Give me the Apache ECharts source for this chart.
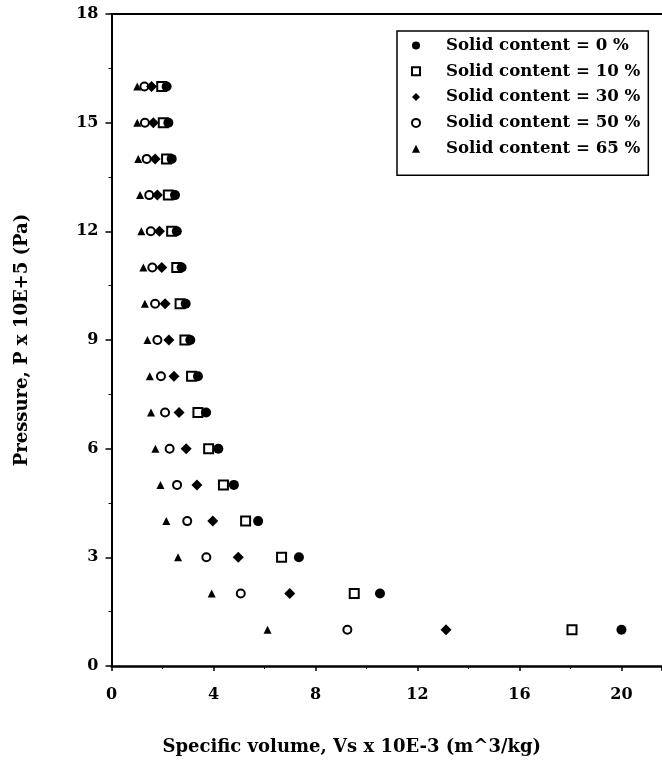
<!DOCTYPE html>
<html>
<head>
<meta charset="utf-8">
<script src="https://cdn.jsdelivr.net/npm/echarts@6/dist/echarts.min.js"></script>
<style>
html,body{margin:0;padding:0;background:#fff;}
#chart{width:662px;height:769px;}
</style>
</head>
<body>
<div id="chart"></div>
<script>
var pressure = [1,2,3,4,5,6,7,8,9,10,11,12,13,14,15,16];
var seriesNames = ['Solid content = 0 %','Solid content = 10 %','Solid content = 30 %','Solid content = 50 %','Solid content = 65 %'];
var vs0  = [20.0, 10.53, 7.35, 5.75, 4.80, 4.19, 3.71, 3.39, 3.09, 2.91, 2.75, 2.56, 2.49, 2.36, 2.23, 2.16];
var vs10 = [18.06, 9.52, 6.67, 5.26, 4.39, 3.81, 3.39, 3.14, 2.88, 2.69, 2.56, 2.36, 2.23, 2.16, 2.03, 1.97];
var vs30 = [13.12, 6.99, 4.97, 3.97, 3.35, 2.93, 2.65, 2.45, 2.25, 2.10, 1.97, 1.88, 1.80, 1.71, 1.64, 1.57];
var vs50 = [9.25, 5.07, 3.72, 2.97, 2.57, 2.28, 2.10, 1.94, 1.80, 1.71, 1.60, 1.54, 1.48, 1.38, 1.31, 1.29];
var vs65 = [6.12, 3.93, 2.61, 2.15, 1.92, 1.72, 1.55, 1.50, 1.41, 1.31, 1.25, 1.17, 1.12, 1.05, 1.01, 1.01];

var FONT = '"DejaVu Serif", serif';
function pts(vs){ return vs.map(function(v,i){ return [v, pressure[i]]; }); }

var chart = echarts.init(document.getElementById('chart'), null, {renderer:'canvas'});
var symDefs = [
  {sym:'circle', size:10},
  {sym:'emptyRect', size:9},
  {sym:'diamond', size:11},
  {sym:'emptyCircle', size:8},
  {sym:'triangle', size:8}
];
var allData = [vs0, vs10, vs30, vs50, vs65];
var series = allData.map(function(d, k){
  var s = symDefs[k];
  return {
    name: seriesNames[k],
    type: 'scatter',
    data: pts(d),
    symbol: s.sym,
    symbolSize: s.size,
    itemStyle: {color:'#000', borderColor:'#000', opacity: 1, borderWidth: (s.sym.indexOf('empty')===0 ? 2 : 0)},
    emphasis: {disabled:true},
    z: 5 - k
  };
});

chart.setOption({
  animation: false,
  backgroundColor: '#fff',
  grid: {left: 111.5, top: 14, right: 0, bottom: 103, containLabel: false},
  legend: {
    orient: 'vertical',
    left: 397, top: 31,
    itemWidth: 8, itemHeight: 8,
    itemGap: 8.8,
    padding: [6, 8, 18, 14],
    borderColor: '#000', borderWidth: 1.5,
    backgroundColor: '#fff',
    textStyle: {fontFamily: FONT, fontWeight: 'bold', fontSize: 16.6, color: '#000', padding:[0,0,0,21]},
    data: seriesNames
  },
  xAxis: [{
    type: 'value', min: 0, max: 21.59, interval: 4,
    name: 'Specific volume, Vs x 10E-3 (m^3/kg)',
    nameLocation: 'middle', nameGap: 72,
    nameTextStyle: {fontFamily: FONT, fontWeight: 'bold', fontSize: 18, color: '#000', padding:[0,70,0,0]},
    axisLine: {show: true, onZero: false, lineStyle: {color: '#000', width: 2.5}},
    axisTick: {show: true, inside: false, length: 5, lineStyle: {color:'#000', width: 1.5}},
    minorTick: {show: true, splitNumber: 2, length: 3, lineStyle: {color:'#000', width: 1}},
    axisLabel: {margin: 21, color: '#000', fontFamily: FONT, fontWeight: 'bold', fontSize: 16, showMaxLabel: false},
    splitLine: {show: false}
  },{
    type: 'value', min: 0, max: 21.59, position: 'top',
    axisLine: {show: true, onZero: false, lineStyle: {color: '#000', width: 2}},
    axisTick: {show: false}, axisLabel: {show: false}, splitLine: {show: false}
  }],
  yAxis: [{
    type: 'value', min: 0, max: 18, interval: 3,
    name: 'Pressure, P x 10E+5 (Pa)',
    nameLocation: 'middle', nameGap: 80, nameRotate: 90,
    nameTextStyle: {fontFamily: FONT, fontWeight: 'bold', fontSize: 18, color: '#000'},
    axisLine: {show: true, onZero: false, lineStyle: {color: '#000', width: 2}},
    axisTick: {show: true, inside: false, length: 6, lineStyle: {color:'#000', width: 1.5}},
    minorTick: {show: true, splitNumber: 2, length: 3, lineStyle: {color:'#000', width: 1}},
    axisLabel: {margin: 13, color: '#000', fontFamily: FONT, fontWeight: 'bold', fontSize: 16},
    splitLine: {show: false}
  }],
  series: series
});
</script>
</body>
</html>
